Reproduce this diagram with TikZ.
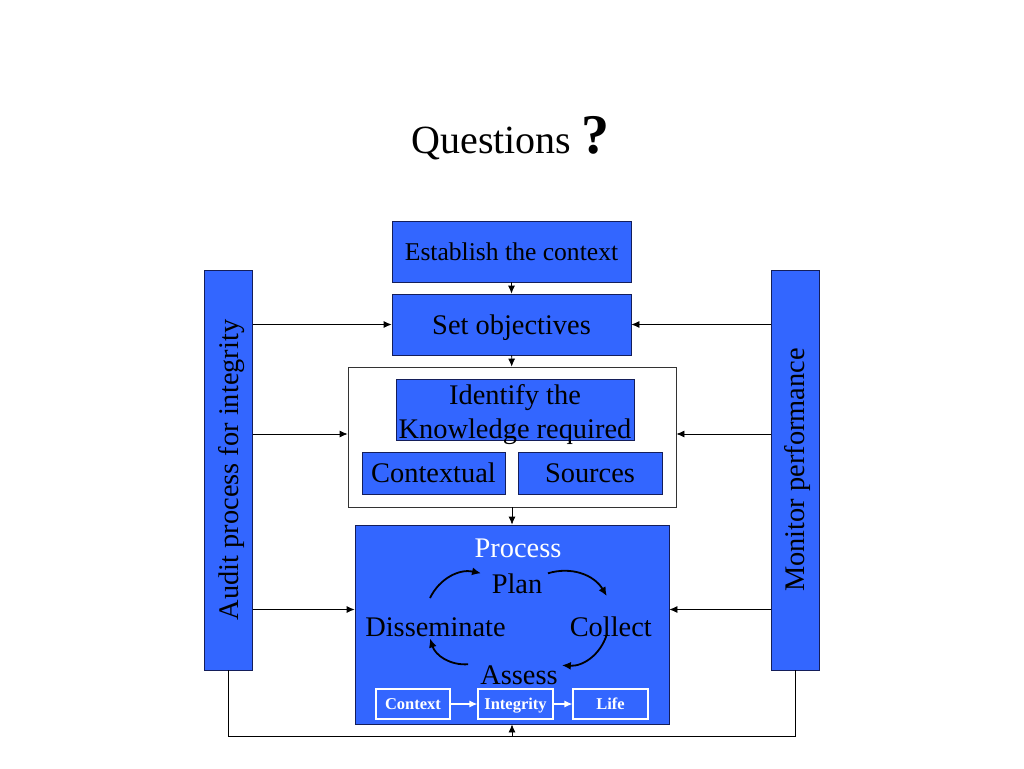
\documentclass[tikz,border=0pt]{standalone}
\usepackage{fontspec}
\setmainfont{Liberation Serif}
\usepackage{tikz}
\usetikzlibrary{positioning, arrows.meta, calc}
\definecolor{boxblue}{RGB}{51,102,255}
\definecolor{boxline}{RGB}{20,30,90}
\tikzset{
	>={Latex[length=8pt,width=7pt]}, % small filled arrow heads
	line/.style={line width=0.8pt}, % thin black connectors
	bluebox/.style={draw=boxline, line width=0.8pt, fill=boxblue, inner sep=0pt, align=center}, % the blue boxes
	sidebar/.style={bluebox, minimum width=48pt, minimum height=400pt}, % the two tall bars
	bigtext/.style={font=\fontsize{28.4}{34}\selectfont}, % 20pt text on the slide
	bigline/.style={bigtext, text height=25.3pt, text depth=6.2pt}, % one line centred like the slide
	steptext/.style={inner sep=0pt, anchor=base, font=\fontsize{28.4}{34}\selectfont}, % words of the cycle
	tag/.style={draw=white, line width=1.2pt, text height=14.7pt, text depth=3.6pt, minimum width=74pt, minimum height=30pt, inner sep=0pt, text=white, font=\fontsize{16.5}{18}\selectfont\bfseries}, % small boxes
	cyc/.style={->, line width=1.8pt, >={Latex[length=9pt,width=8pt]}, bend left=38}, % arrows of the cycle
}
\begin{document}
\begin{tikzpicture}[x=1pt, y=-1pt]
        \useasboundingbox (0,0) rectangle (1024,768);
        % Title
        \node[anchor=base, inner sep=0pt, font=\fontsize{40}{44}\selectfont] (title) at (510.5,153)
            {Questions {\fontsize{56}{60}\selectfont\bfseries ?}};
        % Boxes down the middle
        \node[bluebox, text height=22.8pt, text depth=5.6pt, minimum width=239pt, minimum height=61pt, font=\fontsize{25.6}{30}\selectfont] (context) at (511.5,251.5) {Establish the context};
        \node[bluebox, bigline, minimum width=239pt, minimum height=61pt] (objectives) at (511.5,324.5) {Set objectives};
        \node[draw=black!80, line width=0.8pt, fill=white, minimum width=328pt, minimum height=140pt] (knowledge) at (512,437) {};
        \node[bluebox, minimum width=238pt, minimum height=61pt] (identify) at (515,409.5) {};
        \node[bigtext, align=center, inner sep=0pt] at ([shift={(0,5)}]identify.center) {Identify the\\Knowledge required};
        \node[bluebox, bigline, minimum width=143pt, minimum height=42pt] (contextual) at (433.5,473) {Contextual};
        \node[bluebox, bigline, minimum width=144pt, minimum height=42pt] (sources) at (590,473) {Sources};
        \node[bluebox, minimum width=314pt, minimum height=199pt] (process) at (512,624.5) {};
        % Side bars
        \node[sidebar] (audit) at (228.5,470) {};
        \node[bigline, inner sep=0pt, rotate=90] at (audit.center) {Audit process for integrity};
        \node[sidebar] (monitor) at (795,470) {};
        \node[bigline, inner sep=0pt, rotate=90] at (monitor.center) {Monitor performance};
        % Inside the process box
        \node[steptext, text=white] (proctitle) at (518,557) {Process};
        \node[steptext] (plan) at (517,593) {Plan};
        \node[steptext] (disseminate) at (435.5,636) {Disseminate};
        \node[steptext] (collect) at (610.8,636) {Collect};
        \node[steptext] (assess) at (519,684) {Assess};
        \draw[cyc] ([shift={(-5.5,-19)}]disseminate.north) to ([shift={(-10.5,-10)}]plan.west);
        \draw[cyc] ([shift={(5.5,-10)}]plan.east) to ([shift={(-4,-20)}]collect.north);
        \draw[cyc] ([shift={(-4,-2)}]collect.south) to ([shift={(4,-9.5)}]assess.east);
        \draw[cyc] ([shift={(-12,-10.5)}]assess.west) to ([shift={(-5.5,2)}]disseminate.south);
        \node[tag] (ctx) at (413,704) {Context};
        \node[tag, minimum width=75pt] (integrity) at (515.5,704) {Integrity};
        \node[tag, minimum width=75pt] (life) at (610.5,704) {Life};
        \draw[->, white, line width=1.2pt] (ctx) -- (integrity);
        \draw[->, white, line width=1.2pt] (integrity) -- (life);
        % Arrows down the middle
        \draw[->, line] (context) -- (objectives);
        \draw[->, line] (objectives) -- (knowledge);
        \draw[->, line] (knowledge) -- (process);
        % Arrows from the side bars
        \draw[->, line] (audit.east |- objectives) -- (objectives.west);
        \draw[->, line] (audit.east |- 0,434) -- (knowledge.west |- 0,434);
        \draw[->, line] (audit.east |- 0,609.5) -- (process.west |- 0,609.5);
        \draw[->, line] (monitor.west |- objectives) -- (objectives.east);
        \draw[->, line] (monitor.west |- 0,434) -- (knowledge.east |- 0,434);
        \draw[->, line] (monitor.west |- 0,609.5) -- (process.east |- 0,609.5);
        % Loop back under the process box
        \coordinate (loop) at (process.south |- 0,736);
        \draw[line] (audit.south) |- (loop) -| (monitor.south);
        \draw[->, line] (loop) -- (process.south);
    \end{tikzpicture}
\end{document}
